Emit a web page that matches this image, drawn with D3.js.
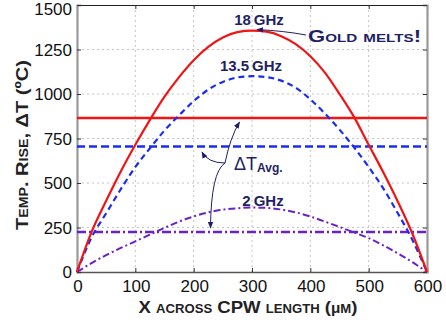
<!DOCTYPE html>
<html><head><meta charset="utf-8">
<script src="https://cdn.jsdelivr.net/npm/d3@7"></script>
<style>body{margin:0;background:#fff}svg{display:block}</style>
</head><body><svg id="c" width="446" height="322"></svg>
<script>
const xs = [0,25,50,75,100,125,150,175,200,225,250,275,300,325,350,375,400,425,450,475,500,525,550,575,600];
const ghz18 = [0,225,400,565,715,855,985,1095,1190,1265,1318,1348,1356,1350,1325,1280,1212,1120,1000,870,715,560,395,215,0];
const ghz135 = [0,195,330,465,590,695,795,880,960,1025,1068,1093,1100,1095,1075,1035,970,890,800,700,590,470,330,180,0];
const ghz2 = [0,50,95,135,172,210,248,283,312,335,350,358,362,360,351,335,312,283,253,222,190,150,105,55,0];
const avg18 = 865, avg135 = 705, avg2 = 225;
const xTicks = [0,100,200,300,400,500,600];
const yTicks = [0,250,500,750,1000,1250,1500];

const svg = d3.select('#c');
const L=77, R=427, T=5, B=272;
const x = d3.scaleLinear().domain([0,600]).range([L,R]);
const y = d3.scaleLinear().domain([0,1500]).range([B,T]);
const navy = '#1f1f66';
const font = '"Liberation Sans", Arial, sans-serif';

// grid
const g = svg.append('g');
g.selectAll('.gx').data(xTicks.slice(1,-1)).join('line')
  .attr('x1',d=>x(d)).attr('x2',d=>x(d)).attr('y1',T).attr('y2',B)
  .attr('stroke','#c4c4c4').attr('stroke-width',1).attr('stroke-dasharray','2,3');
g.selectAll('.gy').data(yTicks.slice(1,-1)).join('line')
  .attr('y1',d=>y(d)).attr('y2',d=>y(d)).attr('x1',L).attr('x2',R)
  .attr('stroke','#c4c4c4').attr('stroke-width',1).attr('stroke-dasharray','2,3');

// axes with inward ticks
const axL = d3.axisLeft(y).tickValues(yTicks).tickSize(-4).tickFormat('');
const axR = d3.axisRight(y).tickValues(yTicks).tickSize(-4).tickFormat('');
const axB = d3.axisBottom(x).tickValues(xTicks).tickSize(-4).tickFormat('');
const axT = d3.axisTop(x).tickValues(xTicks).tickSize(-4).tickFormat('');
function styleAx(s,col,w){s.select('.domain').attr('stroke',col).attr('stroke-width',w);s.selectAll('.tick line').attr('stroke','#333');}
svg.append('g').attr('transform',`translate(0,${T})`).call(axT).call(s=>styleAx(s,'#222',1.2));
svg.append('g').attr('transform',`translate(0,${B})`).call(axB).call(s=>styleAx(s,'#555',1.5));
svg.append('g').attr('transform',`translate(${L},0)`).call(axL).call(s=>styleAx(s,'#999',2.2));
svg.append('g').attr('transform',`translate(${R},0)`).call(axR).call(s=>styleAx(s,'#999',2.2));
svg.selectAll('.domain').attr('fill','none');

// tick labels
svg.selectAll('.yl').data(yTicks).join('text')
  .attr('x',72).attr('y',d=>Math.max(y(d)+6,15)).attr('text-anchor','end')
  .attr('font-family',font).attr('font-size',17).attr('fill','#111').text(d=>d);
svg.selectAll('.xl').data(xTicks).join('text')
  .attr('x',d=>x(d)+1).attr('y',292).attr('text-anchor','middle')
  .attr('font-family',font).attr('font-size',17).attr('fill','#111').text(d=>d);

// horizontal averages
const hl = (v,col,dash,w) => svg.append('line').attr('x1',x(0)).attr('x2',x(600))
  .attr('y1',y(v)).attr('y2',y(v)).attr('stroke',col).attr('stroke-width',w).attr('stroke-dasharray',dash);
hl(avg18,'#f01414',null,2.6);
hl(avg135,'#1a2cf0','8,4',2.4);
hl(avg2,'#6a22c8','9,3,2,3',2.4);

// curves
const line = d3.line().x((d,i)=>x(xs[i])).y(d=>y(d)).curve(d3.curveMonotoneX);
svg.append('path').datum(ghz2).attr('d',line).attr('fill','none')
  .attr('stroke','#6a22c8').attr('stroke-width',2).attr('stroke-dasharray','7,3,2,3');
svg.append('path').datum(ghz135).attr('d',line).attr('fill','none')
  .attr('stroke','#1a2cf0').attr('stroke-width',2.2).attr('stroke-dasharray','6,4');
svg.append('path').datum(ghz18).attr('d',line).attr('fill','none')
  .attr('stroke','#f01414').attr('stroke-width',2.2);

// annotations
const defs = svg.append('defs');
defs.append('marker').attr('id','ah').attr('viewBox','0 0 10 10').attr('refX',9).attr('refY',5)
  .attr('markerWidth',7).attr('markerHeight',7).attr('orient','auto')
  .append('path').attr('d','M0,1 L10,5 L0,9 Z').attr('fill',navy);

function lbl(t,xp,yp,size,anchor){return svg.append('text').attr('x',xp).attr('y',yp)
  .attr('text-anchor',anchor||'middle').attr('font-family',font).attr('font-weight','bold')
  .attr('font-size',size).attr('fill',navy).text(t);}
lbl('18\u2009GHz',259,25,15);
lbl('13.5\u2009GHz',251,71,15);
lbl('2\u2009GHz',263,206,15);
lbl('Gold melts!',308,42,16,'start').attr('font-variant','small-caps').attr('textLength',113).attr('lengthAdjust','spacingAndGlyphs');

svg.append('path').attr('d','M306,35 Q285,31 257,29.5').attr('fill','none')
  .attr('stroke',navy).attr('stroke-width',1).attr('marker-end','url(#ah)');

const dt = svg.append('text').attr('x',234).attr('y',170).attr('font-family',font).attr('fill',navy);
dt.append('tspan').attr('font-size',18).text('\u0394T');
dt.append('tspan').attr('font-size',12).attr('font-weight','bold').attr('dy',2).text('Avg.');

svg.append('path').attr('d','M225,163 Q230,138 239.5,122').attr('fill','none')
  .attr('stroke',navy).attr('stroke-width',1).attr('marker-end','url(#ah)');
svg.append('path').attr('d','M225,163 Q208,163 202,152').attr('fill','none')
  .attr('stroke',navy).attr('stroke-width',1).attr('marker-end','url(#ah)');
svg.append('path').attr('d','M225,163 Q211,172 210.5,228').attr('fill','none')
  .attr('stroke',navy).attr('stroke-width',1).attr('marker-end','url(#ah)');

// axis titles
svg.append('text').attr('transform','translate(28,145) rotate(-90)').attr('text-anchor','middle')
  .attr('font-family',font).attr('font-weight','bold').attr('font-variant','small-caps')
  .attr('font-size',17).attr('fill','#222').attr('textLength',170).attr('lengthAdjust','spacingAndGlyphs')
  .text('Temp. Rise, \u0394T (\u00baC)');
const xt = svg.append('text').attr('x',248).attr('y',313).attr('text-anchor','middle')
  .attr('font-family',font).attr('font-weight','bold').attr('font-variant','small-caps')
  .attr('font-size',17).attr('fill','#222').attr('textLength',219).attr('lengthAdjust','spacingAndGlyphs');
xt.append('tspan').text('X across CPW length (');
xt.append('tspan').attr('font-variant','normal').attr('font-size',14).text('\u03bc');
xt.append('tspan').text('m)');
</script></body></html>
